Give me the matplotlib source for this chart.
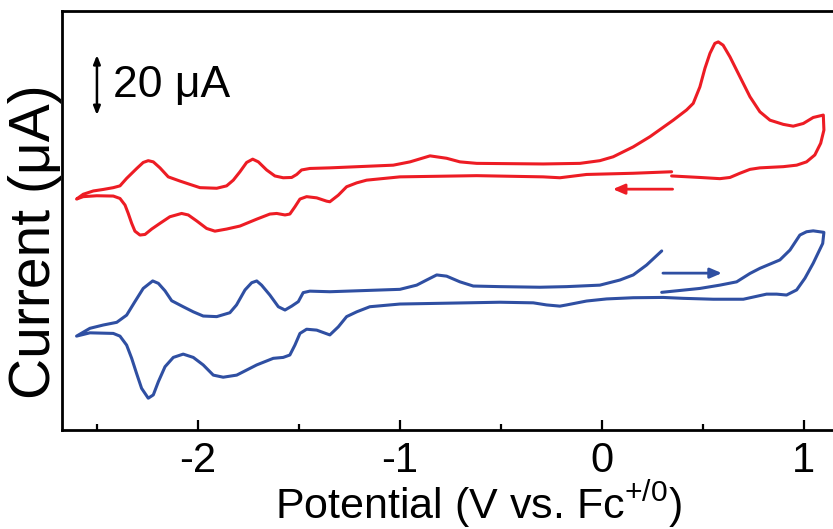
import matplotlib
matplotlib.use("Agg")
import matplotlib.pyplot as plt
from matplotlib.ticker import MultipleLocator

# Cyclic voltammograms (potential in V vs. Fc+/0, current in uA, traces offset vertically)
red_E = [0.345, 0.155, -0.076, -0.208, -0.291, -0.620, -1.000, -1.165, -1.214, -1.264,
         -1.305, -1.347, -1.363, -1.412, -1.462, -1.495, -1.520, -1.545, -1.569, -1.610,
         -1.644, -1.709, -1.792, -1.858, -1.916, -1.957, -2.006, -2.048, -2.081, -2.139,
         -2.188, -2.229, -2.262, -2.287, -2.312, -2.328, -2.345, -2.361, -2.386, -2.419,
         -2.501, -2.568, -2.601,
         -2.568, -2.518, -2.469, -2.419, -2.386, -2.353, -2.303, -2.271, -2.246, -2.221,
         -2.188, -2.147, -2.089, -2.040, -1.990, -1.907, -1.858, -1.825, -1.792, -1.759,
         -1.729, -1.701, -1.660, -1.619, -1.578, -1.536, -1.511, -1.487, -1.446, -1.347,
         -1.033, -0.950, -0.851, -0.769, -0.703, -0.620, -0.291, -0.109, -0.010, 0.056,
         0.155, 0.238, 0.353, 0.419, 0.452, 0.485, 0.510, 0.535, 0.559, 0.576,
         0.600, 0.634, 0.683, 0.733, 0.782, 0.832, 0.898, 0.947, 0.997, 1.046,
         1.096, 1.099, 1.083, 1.054, 1.013, 0.964, 0.898, 0.782, 0.733, 0.683,
         0.634, 0.584, 0.485, 0.345]
red_I = [86.1, 85.6, 85.2, 84.1, 84.4, 84.8, 84.4, 83.3, 82.4, 81.1,
         78.3, 76.1, 76.3, 77.4, 77.8, 77.0, 74.4, 72.0, 71.7, 72.2,
         72.0, 70.3, 68.0, 67.0, 66.3, 67.2, 69.7, 71.7, 72.2, 71.1,
         68.9, 67.0, 65.2, 65.0, 66.3, 68.9, 72.2, 75.0, 77.2, 78.0,
         78.1, 77.8, 77.0,
         78.6, 79.7, 80.2, 80.8, 81.4, 83.9, 87.2, 89.2, 89.8, 89.4,
         87.4, 84.4, 83.0, 81.9, 80.8, 80.6, 81.4, 83.3, 86.1, 89.2,
         90.3, 89.4, 86.7, 84.7, 84.1, 84.2, 85.2, 86.7, 87.2, 87.4,
         88.3, 89.4, 91.4, 90.6, 89.4, 88.9, 88.7, 88.9, 89.8, 91.1,
         94.4, 97.8, 103.3, 106.7, 108.9, 114.4, 120.6, 125.6, 128.9, 129.4,
         128.3, 124.4, 117.8, 111.1, 106.1, 103.3, 101.9, 101.3, 102.2, 104.2,
         105.0, 100.0, 95.6, 91.7, 89.4, 88.3, 87.8, 87.4, 86.9, 85.6,
         84.2, 83.8, 84.2, 84.7]

blue_E = [0.296, 0.485, 0.584, 0.667, 0.733, 0.782, 0.881, 0.931, 0.980, 1.013,
          1.046, 1.099, 1.093, 1.046, 1.005, 0.964, 0.914, 0.865, 0.815, 0.700,
          0.551, 0.402, 0.303, 0.155, 0.023, -0.076, -0.175, -0.208, -0.274, -0.340,
          -0.505, -1.000, -1.149, -1.214, -1.264, -1.305, -1.347, -1.412, -1.462, -1.495,
          -1.520, -1.545, -1.578, -1.627, -1.709, -1.808, -1.875, -1.924, -1.974, -2.023,
          -2.073, -2.122, -2.163, -2.196, -2.221, -2.246, -2.279, -2.304, -2.328, -2.353,
          -2.386, -2.419, -2.535, -2.601,
          -2.535, -2.469, -2.402, -2.353, -2.312, -2.271, -2.224, -2.196, -2.163, -2.130,
          -2.073, -2.023, -1.974, -1.907, -1.842, -1.809, -1.767, -1.734, -1.709, -1.685,
          -1.644, -1.602, -1.569, -1.536, -1.503, -1.479, -1.446, -1.347, -1.000, -0.917,
          -0.868, -0.818, -0.769, -0.703, -0.637, -0.505, -0.307, -0.175, -0.010, 0.089,
          0.155, 0.221, 0.296]
blue_I = [45.9, 47.2, 48.3, 49.4, 52.2, 53.9, 56.7, 60.0, 65.0, 66.1,
          66.4, 65.9, 62.2, 55.6, 50.6, 46.7, 45.0, 45.3, 45.3, 43.6,
          43.6, 43.9, 44.2, 44.1, 43.7, 43.0, 41.7, 41.3, 41.7, 42.4,
          42.6, 42.0, 41.1, 39.4, 37.8, 34.4, 31.7, 33.3, 33.6, 32.2,
          28.3, 25.0, 24.2, 23.9, 21.7, 18.3, 17.6, 18.3, 21.7, 24.2,
          25.3, 24.2, 21.1, 16.1, 11.7, 10.6, 13.9, 18.9, 23.9, 28.3,
          31.3, 32.2, 32.4, 31.3,
          33.9, 35.0, 35.9, 38.3, 42.8, 47.2, 49.7, 48.9, 46.4, 43.1,
          41.1, 39.4, 38.0, 37.8, 39.1, 41.7, 46.7, 49.1, 49.7, 48.3,
          45.0, 41.1, 40.0, 41.3, 42.8, 45.8, 46.3, 46.1, 46.9, 48.3,
          50.0, 51.7, 51.3, 49.4, 48.0, 47.8, 47.6, 47.8, 48.3, 50.0,
          51.7, 55.0, 59.7]

# Scan-direction arrows: (start E, end E, current level)
red_arrow = (0.35, 0.054, 80.3)
blue_arrow = (0.302, 0.594, 52.3)

# Current scale bar
scale_E = -2.50
scale_I0 = 105.0
scale_len = 20.0
scale_label = "20 μA"

xticks_major = [-2, -1, 0, 1]

RED = "#ED1C24"
BLUE = "#2F4FA2"

plt.rcParams["font.family"] = ["Liberation Sans", "DejaVu Sans"]
plt.rcParams["axes.unicode_minus"] = False
plt.rcParams["mathtext.fontset"] = "custom"
plt.rcParams["mathtext.rm"] = "Liberation Sans"
plt.rcParams["mathtext.it"] = "Liberation Sans"
plt.rcParams["mathtext.bf"] = "Liberation Sans"

fig = plt.figure(figsize=(8.33, 5.29), dpi=100)
ax = fig.add_axes([62 / 833, 99 / 529, 771 / 833, 419 / 529])

lw = 2.2
ax.plot(red_E, red_I, color=RED, lw=lw, solid_joinstyle="round", solid_capstyle="round")
ax.plot(blue_E, blue_I, color=BLUE, lw=lw, solid_joinstyle="round", solid_capstyle="round")

for (e0, e1, i), c in ((red_arrow, RED), (blue_arrow, BLUE)):
    ax.annotate("", xy=(e1, i), xytext=(e0, i),
                arrowprops=dict(arrowstyle="-|>,head_length=0.7,head_width=0.3",
                                color=c, lw=2.0, shrinkA=0, shrinkB=0))

ax.annotate("", xy=(scale_E, scale_I0 + scale_len), xytext=(scale_E, scale_I0),
            arrowprops=dict(arrowstyle="<|-|>,head_length=0.5,head_width=0.2",
                            color="black", lw=1.8, shrinkA=0, shrinkB=0))
ax.text(scale_E + 0.08, scale_I0 + scale_len / 2, scale_label, fontsize=32,
        ha="left", va="center")

ax.set_xlim(-2.673, 1.144)
ax.set_ylim(0, 139.7)
ax.set_xticks(xticks_major)
ax.xaxis.set_minor_locator(MultipleLocator(0.5))
ax.set_yticks([])
ax.tick_params(axis="x", which="major", direction="in", length=7, width=1.6,
               labelsize=30, pad=8)
ax.tick_params(axis="x", which="minor", direction="in", length=4, width=1.6)
for side in ("left", "bottom", "top"):
    ax.spines[side].set_linewidth(2.0)
ax.spines["right"].set_visible(False)

ax.set_xlabel("Potential (V vs. Fc$^{+/0}$)", fontsize=31)
ax.xaxis.set_label_coords(0.54, -0.117)
ax.set_ylabel("Current (μA)", fontsize=41)
ax.yaxis.set_label_coords(0.0, 0.449)

fig.savefig("out.png", dpi=100)
